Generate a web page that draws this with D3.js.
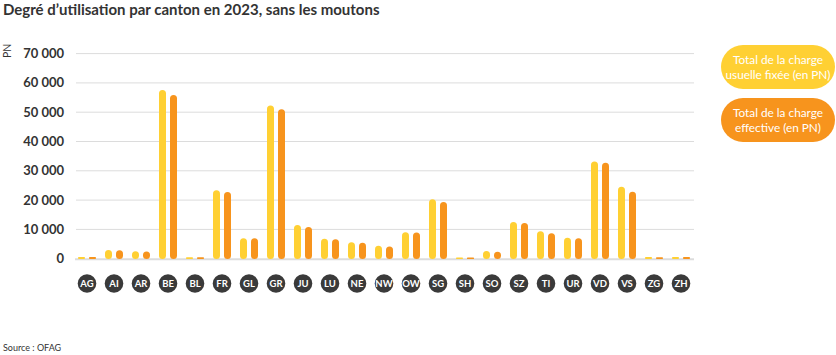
<!DOCTYPE html>
<html><head><meta charset="utf-8">
<script src="https://cdn.jsdelivr.net/npm/d3@7"></script>
<style>
html,body{margin:0;padding:0;background:#fff;}
svg{display:block;font-family:Lato,"Open Sans",sans-serif;}
</style></head>
<body>
<svg id="chart" width="836" height="355"></svg>
<script>
const categories = ["AG","AI","AR","BE","BL","FR","GL","GR","JU","LU","NE","NW","OW","SG","SH","SO","SZ","TI","UR","VD","VS","ZG","ZH"];
const chargeFixee = [600, 2950, 2550, 57600, 500, 23400, 7000, 52300, 11500, 6800, 5600, 4450, 9000, 20250, 450, 2600, 12500, 9400, 7150, 33200, 24550, 550, 600];
const chargeEffective = [550, 2850, 2450, 55850, 480, 22750, 6950, 51000, 10800, 6600, 5450, 4200, 8900, 19350, 420, 2400, 12150, 8650, 6950, 32750, 22850, 520, 560];
const seriesNames = ["Total de la charge usuelle fixée (en PN)", "Total de la charge effective (en PN)"];
const legendLines = [["Total de la charge","usuelle fixée (en PN)"],["Total de la charge","effective (en PN)"]];
const yTicks = [0, 10000, 20000, 30000, 40000, 50000, 60000, 70000];
const yTickLabels = ["0","10 000","20 000","30 000","40 000","50 000","60 000","70 000"];
const colors = ["#ffd033","#f7941d"];

const svg = d3.select("#chart");
const x = d3.scaleBand().domain(categories).range([73.5, 694.5]).padding(0);
const keys = ["fixee","effective"];
const x1 = d3.scaleBand().domain(keys).range([-9, 9]).paddingInner(0.364).paddingOuter(0);
const y = d3.scaleLinear().domain([0, 70000]).range([258.7, 53.6]);

// title
svg.append("text").attr("x", 3).attr("y", 15).attr("font-size", 15).attr("font-weight", 700)
  .attr("fill", "#333").text("Degré d’utilisation par canton en 2023, sans les moutons");

// grid
svg.append("g").selectAll("line").data(yTicks.slice(1)).join("line")
  .attr("x1", 76).attr("x2", 694).attr("y1", d => y(d)).attr("y2", d => y(d))
  .attr("stroke", "#dcdcdc").attr("stroke-width", 1);
svg.append("line").attr("x1", 75).attr("x2", 694).attr("y1", y(0)+0.5).attr("y2", y(0)+0.5)
  .attr("stroke", "#dcdcdc").attr("stroke-width", 2);

// y labels
svg.append("g").selectAll("text").data(yTicks).join("text")
  .attr("x", 64).attr("y", d => y(d)).attr("dy", "0.35em").attr("text-anchor", "end")
  .attr("font-size", 13).attr("font-weight", 700).attr("fill", "#333")
  .text((d, i) => yTickLabels[i]);
svg.append("text").attr("transform", "translate(11,58) rotate(-90)").attr("font-size", 10.5)
  .attr("fill", "#333").text("PN");

// bars
const data = categories.map((c, i) => ({cat: c, fixee: chargeFixee[i], effective: chargeEffective[i]}));
const groups = svg.append("g").selectAll("g").data(data).join("g")
  .attr("transform", d => `translate(${x(d.cat) + x.bandwidth()/2},0)`);
groups.selectAll("rect").data(d => keys.map((k, j) => ({k, v: d[k], j}))).join("rect")
  .attr("x", d => x1(d.k)).attr("width", x1.bandwidth())
  .attr("y", d => y(d.v)).attr("height", d => y(0) - y(d.v) + 0.3)
  .attr("rx", d => Math.min(3.5, (y(0) - y(d.v)) / 2)).attr("ry", d => Math.min(3.5, (y(0) - y(d.v)) / 2))
  .attr("fill", d => colors[d.j]);

// x labels
const xl = svg.append("g").selectAll("g").data(categories).join("g")
  .attr("transform", d => `translate(${x(d) + x.bandwidth()/2},283.5)`);
xl.append("circle").attr("r", 9.3).attr("fill", "#3a3a3a");
xl.append("text").attr("text-anchor", "middle").attr("dy", "0.36em").attr("font-size", 9.5)
  .attr("font-weight", 700).attr("fill", "#fff").text(d => d);

// legend
const leg = svg.append("g").selectAll("g").data(seriesNames).join("g")
  .attr("transform", (d, i) => `translate(721,${45 + i*53})`);
leg.append("rect").attr("width", 114).attr("height", 44).attr("rx", 22).attr("fill", (d, i) => colors[i]);
leg.each(function(d, i) {
  const t = d3.select(this).append("text").attr("text-anchor", "middle").attr("font-size", 11.8)
    .attr("fill", "#fff");
  legendLines[i].forEach((ln, k) => {
    t.append("tspan").attr("x", 57).attr("y", 18.5 + k*15).text(ln);
  });
});

// source
svg.append("text").attr("x", 3).attr("y", 351).attr("font-size", 9).attr("fill", "#333").text("Source : OFAG");
</script>
</body></html>
